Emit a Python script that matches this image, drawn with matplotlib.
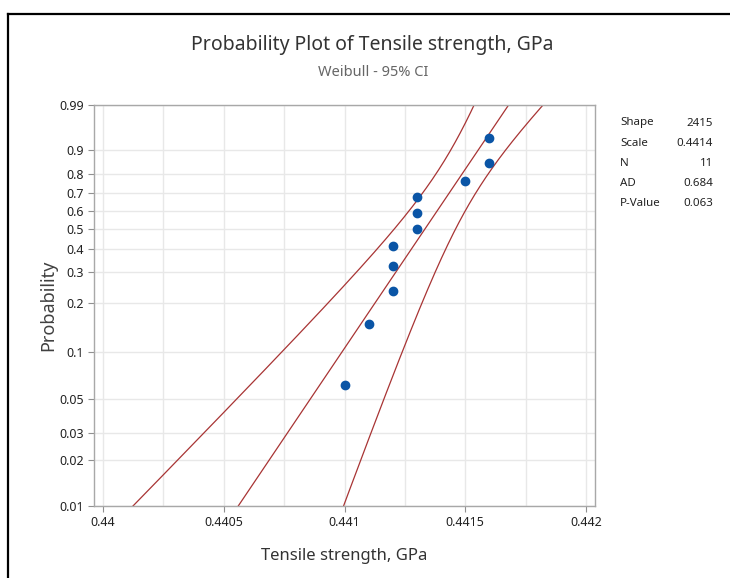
import numpy as np
import matplotlib.pyplot as plt
from matplotlib.lines import Line2D

# ------------------------------
# Data
# ------------------------------
strength = [0.4410, 0.4411, 0.4412, 0.4412, 0.4412,
            0.4413, 0.4413, 0.4413, 0.4415, 0.4416, 0.4416]
shape = 2415
scale = 0.4414
n_obs = 11
ad_stat = 0.684
p_value = 0.063

prob_ticks = [0.01, 0.02, 0.03, 0.05, 0.1, 0.2, 0.3, 0.4, 0.5,
              0.6, 0.7, 0.8, 0.9, 0.99]
x_ticks = [0.44, 0.4405, 0.441, 0.4415, 0.442]
x_grid = [0.44025, 0.44075, 0.44125, 0.44175]

plt.rcParams["font.family"] = ["Noto Sans", "DejaVu Sans"]


def weibull_y(p):
    p = np.asarray(p, dtype=float)
    return np.log(-np.log(1.0 - p))


# median rank plotting positions (Benard)
x_sorted = np.sort(strength)
ranks = np.arange(1, len(x_sorted) + 1)
plot_pos = (ranks - 0.3) / (len(x_sorted) + 0.4)

# fitted line and 95% CI on log scale (smallest extreme value form)
u = np.log(scale)
b = 1.0 / shape
g = 1.0 - np.euler_gamma
info = (n_obs / b**2) * np.array([[1.0, g], [g, g**2 + np.pi**2 / 6]])
cov = np.linalg.inv(info)
w = np.linspace(-5.5, 2.5, 400)
yp = u + w * b
sd = np.sqrt(cov[0, 0] + 2 * w * cov[0, 1] + w**2 * cov[1, 1])
fit_x = np.exp(yp)
lo_x = np.exp(yp - 1.96 * sd)
hi_x = np.exp(yp + 1.96 * sd)

# ------------------------------
# Plot
# ------------------------------
fig = plt.figure(figsize=(7.3, 5.78), dpi=100)
ax = fig.add_axes([94 / 730, 1 - 506 / 578, 501 / 730, 401 / 578])

line_col = "#a83434"
ax.plot(lo_x, w, color=line_col, lw=0.9)
ax.plot(fit_x, w, color=line_col, lw=0.9)
ax.plot(hi_x, w, color=line_col, lw=0.9)
ax.plot(x_sorted, weibull_y(plot_pos), "o", color="#0a55a6",
        markersize=6, zorder=5)

ax.set_xlim(0.439963, 0.442037)
ax.set_ylim(weibull_y(0.01), weibull_y(0.99))

ax.set_yticks(weibull_y(prob_ticks))
ax.set_yticklabels([f"{p:g}" for p in prob_ticks])
ax.set_xticks(x_ticks)
ax.set_xticklabels([f"{v:g}" for v in x_ticks])
ax.set_xticks(x_grid, minor=True)
ax.tick_params(which="minor", length=0)
ax.tick_params(labelsize=9, colors="#222222", length=4, width=0.8, pad=3)
ax.tick_params(axis="both", which="major", color="#909090")

ax.grid(True, which="both", color="#e8e8e8", lw=1)
ax.set_axisbelow(True)
for s in ax.spines.values():
    s.set_color("#a8a8a8")
    s.set_linewidth(1)

ax.set_xlabel("Tensile strength, GPa", fontsize=12, color="#333333", labelpad=14)
ax.set_ylabel("Probability", fontsize=13, color="#404040", labelpad=2)

fig.text(372 / 730, 1 - 45 / 578,
         "Probability Plot of Tensile strength, GPa",
         ha="center", va="center", fontsize=14, color="#333333")
fig.text(373 / 730, 1 - 72 / 578, "Weibull - 95% CI",
         ha="center", va="center", fontsize=10.5, color="#666666")

# stats table
labels = ["Shape", "Scale", "N", "AD", "P-Value"]
values = [f"{shape}", f"{scale}", f"{n_obs}", f"{ad_stat}", f"{p_value}"]
for i, (lab, val) in enumerate(zip(labels, values)):
    y = 1 - (123 + 20.2 * i) / 578
    fig.text(620 / 730, y, lab, ha="left", va="center", fontsize=8.3,
             color="#222222")
    fig.text(713 / 730, y, val, ha="right", va="center", fontsize=8.3,
             color="#222222")

# outer frame (top and left edges visible)
fig.add_artist(Line2D([8 / 730, 8 / 730], [0, 1 - 14 / 578],
                      transform=fig.transFigure, color="black", lw=1.6))
fig.add_artist(Line2D([8 / 730, 1], [1 - 14 / 578, 1 - 14 / 578],
                      transform=fig.transFigure, color="black", lw=1.6))

fig.savefig("out.png", dpi=100)
